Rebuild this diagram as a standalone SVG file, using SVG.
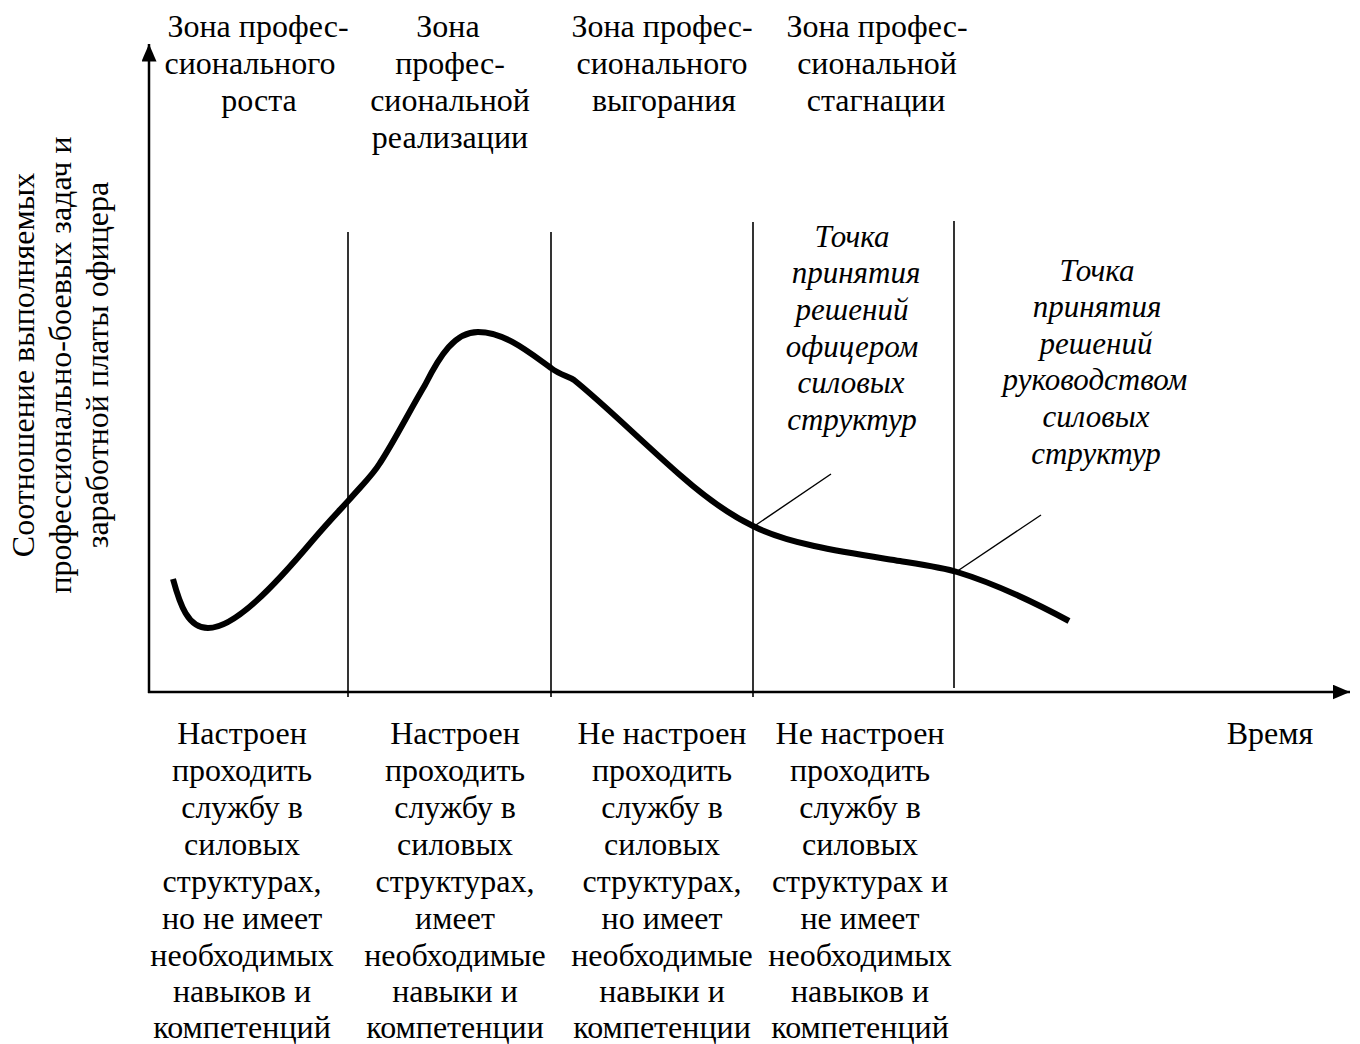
<svg xmlns="http://www.w3.org/2000/svg" width="1360" height="1044" viewBox="0 0 1360 1044">
<style>
.t{font-family:"Liberation Serif","Times New Roman",serif;font-size:32px;fill:#000;text-anchor:middle}
.i{font-family:"Liberation Serif","Times New Roman",serif;font-size:31px;font-style:italic;fill:#000;text-anchor:middle}
.ax{stroke:#000;stroke-width:2.5;fill:none}
.div{stroke:#000;stroke-width:1.6;fill:none}
.ptr{stroke:#000;stroke-width:1.4;fill:none}
.curve{stroke:#000;stroke-width:6;fill:none;stroke-linejoin:round}
</style>
<defs>
<marker id="arr" markerWidth="8" markerHeight="6" refX="7" refY="3" orient="auto" markerUnits="strokeWidth">
<path d="M0,0 L7,3 L0,6 Z" fill="#000"/>
</marker>
</defs>
<rect width="1360" height="1044" fill="#fff"/>
<g id="connectors">
<line id="y-axis" class="ax" x1="149" y1="693" x2="149" y2="44" marker-end="url(#arr)"/>
<line id="x-axis" class="ax" x1="148" y1="692" x2="1350" y2="692" marker-end="url(#arr)"/>
<line class="div" x1="348" y1="232" x2="348" y2="697"/>
<line class="div" x1="551" y1="232" x2="551" y2="697"/>
<line class="div" x1="753" y1="222" x2="753" y2="697"/>
<line class="div" x1="954" y1="221" x2="954" y2="688"/>
<line class="ptr" x1="753" y1="527" x2="831" y2="474"/>
<line class="ptr" x1="956" y1="572" x2="1041" y2="515"/>
<path id="curve" class="curve" d="M173,579 C180,605 188,628 208,628 C235,628 275,585 313,540 C330,520 340,510 349,500 C362,485 372,476 380,463 C395,440 410,410 425,385 C440,355 455,332 478,332 C505,332 530,353 551,368 C560,375 568,376 574,380 C605,405 640,440 680,475 C705,497 730,515 753,526 C790,545 850,553 900,561 C925,565 945,568 957,572 C990,582 1030,600 1069,621"/>
</g>
<g id="y-label">
<text class="t" transform="translate(34,365) rotate(-90)">Соотношение выполняемых</text>
<text class="t" transform="translate(71,365) rotate(-90)">профессионально-боевых задач и</text>
<text class="t" transform="translate(108,365) rotate(-90)">заработной платы офицера</text>
</g>
<g id="x-label">
<text class="t" x="1270" y="744">Время</text>
</g>
<g id="zone1">
<text class="t" x="258" y="37">Зона профес-</text>
<text class="t" x="250" y="74">сионального</text>
<text class="t" x="259" y="111">роста</text>
</g>
<g id="zone2">
<text class="t" x="448" y="37">Зона</text>
<text class="t" x="450" y="74">профес-</text>
<text class="t" x="450" y="111">сиональной</text>
<text class="t" x="450" y="148">реализации</text>
</g>
<g id="zone3">
<text class="t" x="662" y="37">Зона профес-</text>
<text class="t" x="662" y="74">сионального</text>
<text class="t" x="664" y="111">выгорания</text>
</g>
<g id="zone4">
<text class="t" x="877" y="37">Зона профес-</text>
<text class="t" x="877" y="74">сиональной</text>
<text class="t" x="876" y="111">стагнации</text>
</g>
<g id="point1">
<text class="i" x="852" y="247">Точка</text>
<text class="i" x="856" y="283">принятия</text>
<text class="i" x="852" y="320">решений</text>
<text class="i" x="852" y="357">офицером</text>
<text class="i" x="851" y="393">силовых</text>
<text class="i" x="852" y="430">структур</text>
</g>
<g id="point2">
<text class="i" x="1097" y="281">Точка</text>
<text class="i" x="1097" y="317">принятия</text>
<text class="i" x="1096" y="354">решений</text>
<text class="i" x="1095" y="390">руководством</text>
<text class="i" x="1096" y="427">силовых</text>
<text class="i" x="1096" y="464">структур</text>
</g>
<g id="state1">
<text class="t" x="242" y="744">Настроен</text>
<text class="t" x="242" y="781">проходить</text>
<text class="t" x="242" y="818">службу в</text>
<text class="t" x="242" y="855">силовых</text>
<text class="t" x="242" y="892">структурах,</text>
<text class="t" x="242" y="929">но не имеет</text>
<text class="t" x="242" y="966">необходимых</text>
<text class="t" x="242" y="1002">навыков и</text>
<text class="t" x="242" y="1038">компетенций</text>
</g>
<g id="state2">
<text class="t" x="455" y="744">Настроен</text>
<text class="t" x="455" y="781">проходить</text>
<text class="t" x="455" y="818">службу в</text>
<text class="t" x="455" y="855">силовых</text>
<text class="t" x="455" y="892">структурах,</text>
<text class="t" x="455" y="929">имеет</text>
<text class="t" x="455" y="966">необходимые</text>
<text class="t" x="455" y="1002">навыки и</text>
<text class="t" x="455" y="1038">компетенции</text>
</g>
<g id="state3">
<text class="t" x="662" y="744">Не настроен</text>
<text class="t" x="662" y="781">проходить</text>
<text class="t" x="662" y="818">службу в</text>
<text class="t" x="662" y="855">силовых</text>
<text class="t" x="662" y="892">структурах,</text>
<text class="t" x="662" y="929">но имеет</text>
<text class="t" x="662" y="966">необходимые</text>
<text class="t" x="662" y="1002">навыки и</text>
<text class="t" x="662" y="1038">компетенции</text>
</g>
<g id="state4">
<text class="t" x="860" y="744">Не настроен</text>
<text class="t" x="860" y="781">проходить</text>
<text class="t" x="860" y="818">службу в</text>
<text class="t" x="860" y="855">силовых</text>
<text class="t" x="860" y="892">структурах и</text>
<text class="t" x="860" y="929">не имеет</text>
<text class="t" x="860" y="966">необходимых</text>
<text class="t" x="860" y="1002">навыков и</text>
<text class="t" x="860" y="1038">компетенций</text>
</g>
</svg>
